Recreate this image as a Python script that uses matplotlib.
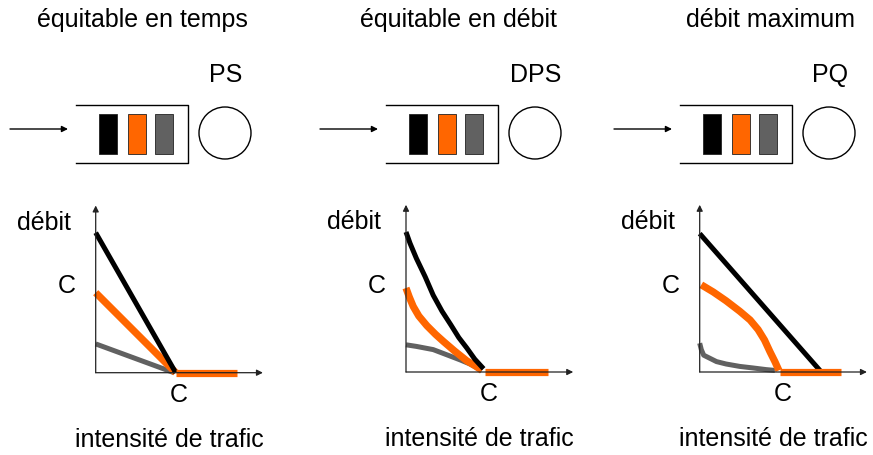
import matplotlib
matplotlib.use('Agg')
import matplotlib.pyplot as plt
from matplotlib.patches import Rectangle, Circle

plt.rcParams['font.family'] = ['Liberation Sans', 'DejaVu Sans']

ORANGE = '#ff6600'
GRAY = '#616161'
FS = 18

titles = ['équitable en temps', 'équitable en débit', 'débit maximum']
policies = ['PS', 'DPS', 'PQ']

# curves, traffic intensity and throughput in units of C
black_x = [[0, 1.0],
           [0, 0.05, 0.13, 0.24, 0.34, 0.45, 0.56, 0.66, 0.76, 0.86, 0.97],
           [0, 1.52]]
black_y = [[1.75, 0.0],
           [1.75, 1.61, 1.42, 1.19, 0.96, 0.76, 0.59, 0.43, 0.30, 0.16, 0.04],
           [1.73, 0.0]]
orange_x = [[0, 1.0],
            [0, 0.04, 0.09, 0.16, 0.26, 0.37, 0.47, 0.61, 0.76, 0.86, 0.95],
            [0.02, 0.17, 0.33, 0.50, 0.63, 0.73, 0.81, 0.88, 0.94, 0.99]]
orange_y = [[1.0, 0.0],
            [1.05, 0.94, 0.82, 0.70, 0.58, 0.47, 0.38, 0.26, 0.14, 0.08, 0.02],
            [1.09, 1.00, 0.89, 0.76, 0.65, 0.53, 0.40, 0.25, 0.13, 0.02]]
gray_x = [[0, 0.98],
          [0, 0.13, 0.34, 0.55, 0.68, 0.80, 0.95],
          [0, 0.02, 0.05, 0.13, 0.21, 0.33, 0.50, 0.67, 0.83, 0.94]]
gray_y = [[0.36, 0.0],
          [0.34, 0.32, 0.28, 0.20, 0.15, 0.10, 0.02],
          [0.36, 0.28, 0.21, 0.17, 0.13, 0.10, 0.07, 0.05, 0.03, 0.02]]
flat_x = [[1.0, 1.77], [0.99, 1.77], [1.0, 1.77]]

W, H = 873, 455
fig = plt.figure(figsize=(W / 100, H / 100), dpi=100)

# overlay in pixel coordinates for the queue sketches and titles
ov = fig.add_axes([0, 0, 1, 1])
ov.set_xlim(0, W)
ov.set_ylim(H, 0)
ov.axis('off')

offsets = [0, 310, 604]
origins = [(95.7, 372.7), (406, 372), (699.7, 372)]
title_x = [142, 458, 770]
PX = 80.0   # pixels per C
SPAN = 2.09
line_kw = dict(clip_on=False, solid_capstyle='butt', solid_joinstyle='round')

for i in range(3):
    dx = offsets[i]
    ov.text(title_x[i], 20, titles[i], fontsize=FS, ha='center', va='center')
    ov.text(226 + dx, 75, policies[i], fontsize=FS, ha='center', va='center')
    # arrival arrow
    ov.annotate('', xy=(68 + dx, 129), xytext=(10 + dx, 129),
                arrowprops=dict(arrowstyle='-|>', lw=1, color='black',
                                mutation_scale=9, shrinkA=0, shrinkB=0))
    # queue box open on the left
    ov.plot([76 + dx, 188 + dx, 188 + dx, 76 + dx], [105, 105, 163, 163],
            color='black', lw=1)
    for bx, col in zip([99, 128, 155], ['black', ORANGE, GRAY]):
        ov.add_patch(Rectangle((bx + dx, 114), 17.5, 40, facecolor=col,
                               edgecolor='#222222', lw=0.6))
    ov.add_patch(Circle((225 + dx, 133), 26, facecolor='white',
                        edgecolor='black', lw=1))

    ox, oy = origins[i]
    ax = fig.add_axes([ox / W, (H - oy) / H, SPAN * PX / W, SPAN * PX / H])
    ax.set_xlim(0, SPAN)
    ax.set_ylim(0, SPAN)
    ax.axis('off')
    ax.patch.set_alpha(0)
    for xy in [(SPAN, 0), (0, SPAN)]:
        ax.annotate('', xy=xy, xytext=(0, 0),
                    arrowprops=dict(arrowstyle='-|>', lw=0.9, color='#222222',
                                    mutation_scale=9, shrinkA=0, shrinkB=0),
                    annotation_clip=False)
    ax.plot(gray_x[i], gray_y[i], color=GRAY, lw=3.6, **line_kw)
    ax.plot(orange_x[i], orange_y[i], color=ORANGE, lw=5.2, **line_kw)
    ax.plot(black_x[i], black_y[i], color='black', lw=3.6, **line_kw)
    ax.plot(flat_x[i], [0, 0], color=ORANGE, lw=5.2, **line_kw)

    ax.text(-0.65, 1.87, 'débit', fontsize=FS, ha='center', va='center')
    ax.text(-0.36, 1.08, 'C', fontsize=FS, ha='center', va='center')
    ax.text(1.04, -0.28, 'C', fontsize=FS, ha='center', va='center')
    ax.text(0.92, -0.84, 'intensité de trafic', fontsize=FS,
            ha='center', va='center')

fig.savefig('out.png', dpi=100)
